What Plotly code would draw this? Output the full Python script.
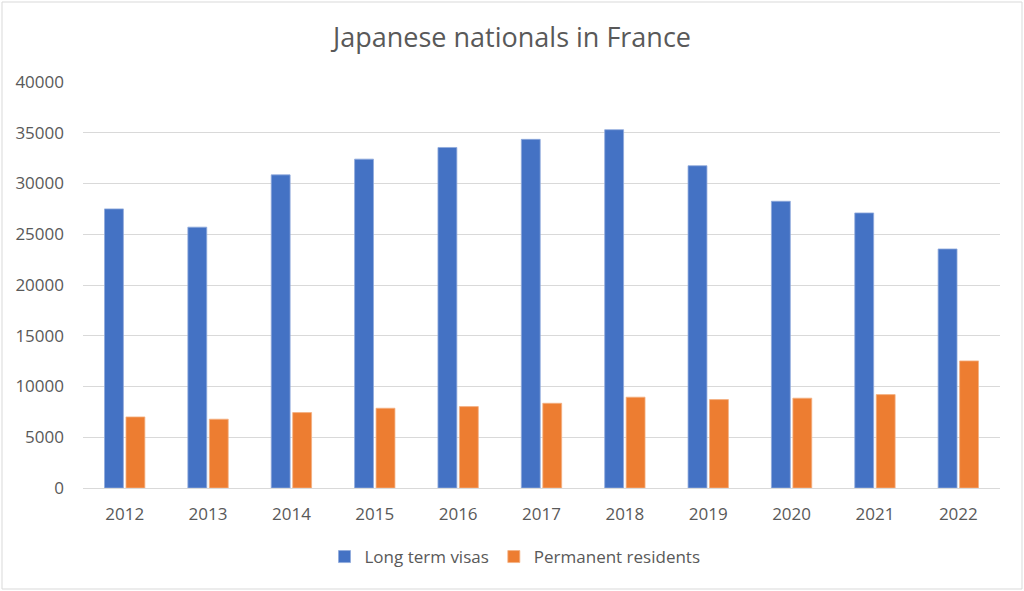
import plotly.graph_objects as go

years = ["2012", "2013", "2014", "2015", "2016", "2017", "2018", "2019", "2020", "2021", "2022"]
long_term_visas = [27500, 25700, 30850, 32400, 33550, 34350, 35300, 31750, 28250, 27100, 23550]
permanent_residents = [7000, 6780, 7430, 7860, 8020, 8350, 8950, 8710, 8850, 9200, 12520]
y_ticks = [0, 5000, 10000, 15000, 20000, 25000, 30000, 35000, 40000]
y_tick_labels = [str(v) for v in y_ticks]

W, H = 1024, 591
ml, mr, mt, mb = 83, 24, 82, 103
pw, ph = W - ml - mr, H - mt - mb

font_fam = "Open Sans, Liberation Sans, sans-serif"
grey = "#595959"

fig = go.Figure()
fig.add_trace(go.Bar(x=years, y=long_term_visas, name="Long term visas",
                     marker=dict(color="#4472C4", line=dict(width=0.8, color="#8FAADC"))))
fig.add_trace(go.Bar(x=years, y=permanent_residents, name="Permanent residents  ",
                     marker=dict(color="#ED7D31", line=dict(width=0.8, color="#F4B183"))))

fig.update_layout(
    width=W, height=H,
    margin=dict(l=ml, r=mr, t=mt, b=mb),
    paper_bgcolor="white", plot_bgcolor="white",
    barmode="group", bargap=0.485, bargroupgap=0.12,
    title=dict(text="Japanese nationals in France", x=0.5, xanchor="center",
               y=1 - 38 / H, yanchor="middle",
               font=dict(family=font_fam, size=27, color=grey)),
    font=dict(family=font_fam, color=grey, size=17),
    legend=dict(orientation="h", x=0.5 - 22 / pw, xanchor="center", y=-(557 - 488) / ph, yanchor="middle",
                font=dict(size=17, color=grey), itemwidth=30, traceorder="normal"),
    xaxis=dict(showgrid=False, showline=True, linecolor="#D9D9D9", linewidth=1,
               ticks="", tickfont=dict(size=17, color=grey), ticklabelstandoff=11),
    yaxis=dict(range=[0, 40000], tickvals=y_ticks, ticktext=y_tick_labels,
               showgrid=True, gridcolor="#D9D9D9",
               gridwidth=1, zeroline=False, showline=False, ticks="",
               tickfont=dict(size=17, color=grey), ticklabelstandoff=18),
    shapes=[dict(type="rect", xref="paper", yref="paper",
                 x0=-(ml - 2) / pw, x1=1 + (mr - 2) / pw,
                 y0=-(mb - 2) / ph, y1=1 + (mt - 2) / ph,
                 line=dict(color="#D9D9D9", width=1))],
)

fig.write_html("out.html", config={"displayModeBar": False},
               post_script="document.body.style.margin='0';")
